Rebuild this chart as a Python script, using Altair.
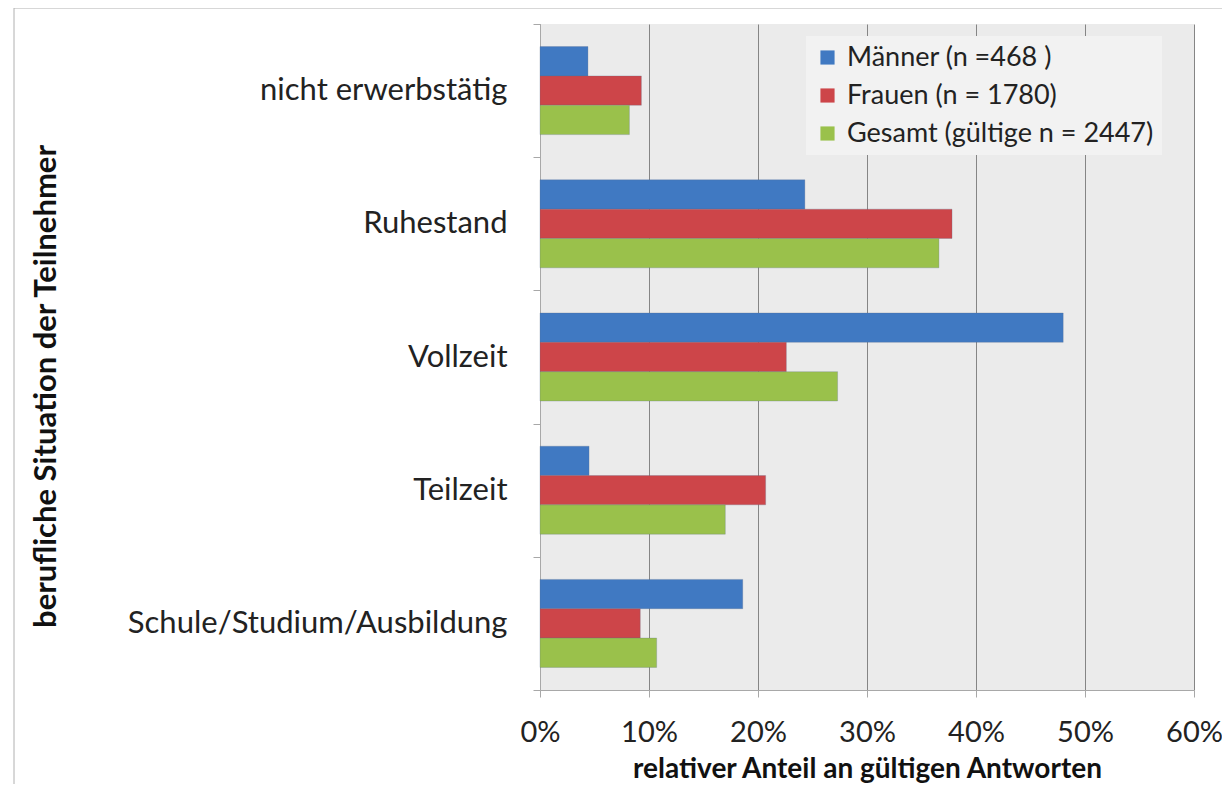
import altair as alt
import pandas as pd

categories = ["nicht erwerbstätig", "Ruhestand", "Vollzeit", "Teilzeit", "Schule/Studium/Ausbildung"]
series = ["Männer (n =468 )", "Frauen (n = 1780)", "Gesamt (gültige n = 2447)"]
maenner = [0.044, 0.243, 0.480, 0.045, 0.186]
frauen = [0.093, 0.378, 0.226, 0.207, 0.092]
gesamt = [0.082, 0.366, 0.273, 0.170, 0.107]
colors = ["#4079c2", "#cd4549", "#9ac14b"]
x_ticks = [0, 0.1, 0.2, 0.3, 0.4, 0.5, 0.6]

rows = []
for i, c in enumerate(categories):
    for s, vals in zip(series, [maenner, frauen, gesamt]):
        rows.append({"Kategorie": c, "Gruppe": s, "Anteil": vals[i]})
df = pd.DataFrame(rows)

FONT = "Lato"

bars = alt.Chart(df).mark_bar(strokeWidth=0.8, stroke="#5a6f8a", strokeOpacity=0.35).encode(
    x=alt.X("Anteil:Q",
            scale=alt.Scale(domain=[0, 0.6], nice=False),
            axis=alt.Axis(values=x_ticks, format=".0%", title="relativer Anteil an gültigen Antworten",
                          grid=True, gridColor="#858585", gridWidth=1, labelFlush=False,
                          domainColor="#a8a8a8", tickColor="#a8a8a8", tickSize=7,
                          labelFontSize=29, labelPadding=21, labelColor="#222222", labelFont=FONT,
                          titleFontSize=28, titleFontWeight="bold", titleFont=FONT, titleColor="#111111",
                          titleBaseline="middle", titleY=79)),
    y=alt.Y("Kategorie:N", sort=categories,
            scale=alt.Scale(paddingInner=0, paddingOuter=0),
            axis=alt.Axis(title="berufliche Situation der Teilnehmer", tickBand="extent",
                          domainColor="#a8a8a8", tickColor="#a8a8a8", tickSize=7,
                          labelFontSize=31, labelPadding=26, labelColor="#222222", labelFont=FONT,
                          titleFontSize=31, titleFontWeight="bold", titleFont=FONT, titleColor="#111111",
                          titleBaseline="middle", titleX=-494, titleY=362, titleAngle=270,
                          labelLimit=600)),
    yOffset=alt.YOffset("Gruppe:N", sort=series,
                        scale=alt.Scale(paddingInner=0, paddingOuter=0.77)),
    color=alt.Color("Gruppe:N", sort=series,
                    scale=alt.Scale(domain=series, range=colors),
                    legend=alt.Legend(title=None, orient="none", legendX=266, legendY=12,
                                      symbolType="square", symbolSize=200, symbolStrokeWidth=0,
                                      labelFontSize=27, labelFont=FONT, labelColor="#222222",
                                      rowPadding=10, labelOffset=6, padding=8,
                                      fillColor="#f2f2f2", labelLimit=600)),
)

border = alt.Chart(alt.Data(values=[{}])).mark_rect(
    filled=False, stroke="#b0b0b0", strokeWidth=1
).encode(x=alt.value(-526), x2=alt.value(700), y=alt.value(-16), y2=alt.value(790))

chart = alt.layer(border, bars).properties(
    width=654, height=666,
    autosize=alt.AutoSizeParams(type="none"),
    padding={"left": 532, "top": 16, "right": 28, "bottom": 94},
    background="white",
).configure_view(fill="#ebebeb", stroke=None)

chart.save("out.html", embed_options={"renderer": "svg", "actions": False})
